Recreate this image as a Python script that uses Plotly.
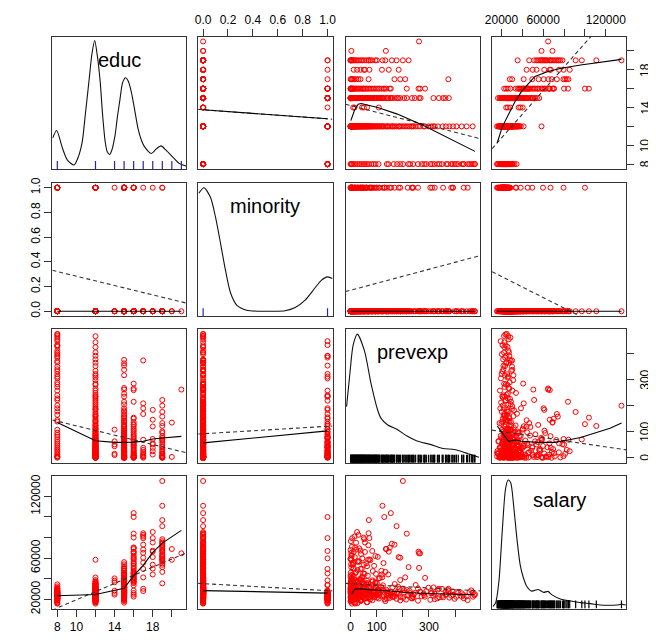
import plotly.graph_objects as go

# ---------------- data ----------------
# records per education level: (minority, prevexp [months], salary [$])
rec_educ8 = [
    (0, 476, 25000), (0, 468, 22500), (0, 455, 27000), (1, 433, 21000), (0, 432, 24000), (0, 412, 26500),
    (0, 398, 20400), (1, 385, 23500), (0, 372, 29000), (0, 340, 21900), (0, 321, 25500), (1, 305, 19500),
    (0, 290, 27900), (0, 272, 23000), (0, 258, 30500), (1, 240, 22000), (0, 228, 26000), (0, 221, 24300),
    (0, 201, 21300), (1, 190, 18900), (0, 178, 27000), (0, 165, 25200), (0, 145, 23600), (1, 139, 20700),
    (0, 107, 28500), (0, 96, 31000), (1, 88, 22800), (0, 80, 24900), (0, 70, 26100), (1, 62, 17100),
    (0, 55, 21600), (0, 48, 34500), (1, 40, 19800), (0, 33, 23100), (0, 26, 16200), (1, 18, 15750),
    (0, 12, 32500), (0, 6, 18300), (1, 3, 21000), (0, 0, 29700),
    (0, 474, 23800), (0, 462, 28600), (1, 448, 19200), (0, 426, 25800), (0, 404, 22400), (1, 391, 27600),
    (0, 366, 24700), (0, 350, 30100), (0, 332, 20900), (1, 312, 26300), (0, 282, 24100), (0, 4, 27300)]
rec_educ12 = [
    (0, 467, 26400), (0, 444, 22800), (1, 392, 24300), (0, 378, 21600), (0, 365, 27300), (0, 352, 23400),
    (0, 334, 29400), (1, 322, 20100), (0, 308, 25800), (0, 298, 31200), (0, 284, 22500), (0, 266, 27600),
    (1, 258, 18600), (0, 249, 33900), (0, 241, 24900), (0, 233, 21000), (0, 226, 28200), (1, 219, 23700),
    (0, 212, 19650), (0, 205, 26700), (0, 198, 30300), (0, 191, 22200), (1, 184, 25200), (0, 176, 20400),
    (0, 169, 34800), (0, 163, 23100), (0, 157, 27000), (1, 150, 21300), (0, 144, 25500), (0, 138, 29100),
    (0, 133, 18150), (0, 127, 24000), (1, 122, 22650), (0, 117, 31800), (0, 112, 26100), (0, 108, 20700),
    (0, 103, 28800), (1, 99, 24600), (0, 95, 36300), (0, 91, 21900), (0, 87, 25950), (0, 84, 19200),
    (1, 80, 23250), (0, 77, 30600), (0, 73, 27750), (0, 70, 22050), (0, 67, 58400), (0, 64, 17250),
    (1, 61, 26850), (0, 58, 24150), (0, 55, 32400), (0, 52, 20850), (0, 50, 29850), (1, 47, 22350),
    (0, 45, 41200), (0, 42, 25050), (0, 40, 18900), (0, 38, 27450), (1, 35, 21450), (0, 33, 35400),
    (0, 31, 23550), (0, 29, 26250), (0, 27, 19800), (1, 25, 28050), (0, 23, 24450), (0, 21, 38600),
    (0, 19, 22950), (0, 18, 30000), (1, 16, 16950), (0, 14, 25650), (0, 13, 21150), (0, 11, 33000),
    (0, 10, 23850), (1, 9, 27150), (0, 8, 20250), (0, 7, 31500), (0, 6, 24750), (0, 5, 15750),
    (1, 4, 26550), (0, 3, 22200), (0, 3, 37500), (0, 2, 19350), (0, 2, 28500), (1, 1, 23100),
    (0, 1, 17700), (0, 0, 25350), (0, 0, 30900), (0, 0, 21750), (1, 0, 34200), (0, 0, 18450),
    (0, 0, 26700), (0, 1, 21900), (1, 2, 19500), (0, 3, 29700), (0, 4, 24600), (0, 5, 32100),
    (1, 6, 20700), (0, 8, 27000), (0, 9, 23400), (0, 11, 35100), (1, 12, 22200), (0, 14, 28800),
    (0, 15, 25200), (0, 17, 19950), (0, 19, 31200), (1, 20, 24000), (0, 22, 26400), (0, 24, 36600),
    (0, 26, 22800), (0, 28, 29100), (1, 30, 21000), (0, 32, 27300), (0, 34, 33300), (0, 37, 24300),
    (0, 39, 18600), (1, 41, 26100), (0, 44, 30600), (0, 46, 23100), (0, 49, 27600), (0, 53, 20400),
    (1, 56, 25500), (0, 60, 34500), (0, 63, 22500), (0, 66, 28200), (0, 71, 25800), (1, 75, 19800),
    (0, 79, 31800), (0, 86, 24750), (0, 93, 27750), (0, 101, 21600), (1, 110, 23700), (0, 124, 29400),
    (0, 141, 26100), (0, 161, 22050), (0, 187, 30000), (1, 236, 20850), (0, 280, 25650), (0, 316, 23250),
    (0, 405, 27150), (0, 425, 22650)]
rec_educ14 = [(0, 108, 40300), (0, 63, 38100), (1, 51, 24500), (0, 44, 36500), (0, 15, 28300), (0, 10, 26100)]
rec_educ15 = [
    (0, 376, 27900), (0, 363, 24600), (1, 354, 21900), (0, 338, 30300), (0, 268, 26700), (0, 262, 50500),
    (1, 235, 23400), (0, 215, 29100), (0, 190, 38700), (0, 177, 25800), (1, 168, 22500), (0, 160, 31500),
    (0, 152, 27300), (0, 144, 44100), (0, 137, 24000), (1, 130, 19950), (0, 124, 33600), (0, 118, 28800),
    (0, 112, 40500), (0, 106, 26400), (1, 100, 23700), (0, 95, 36000), (0, 90, 30600), (0, 85, 47400),
    (0, 80, 25200), (1, 75, 21600), (0, 71, 32700), (0, 67, 28200), (0, 63, 52200), (0, 59, 26100),
    (1, 55, 24900), (0, 52, 35100), (0, 48, 29700), (0, 45, 42300), (0, 42, 27600), (1, 39, 18300),
    (0, 36, 31200), (0, 33, 25500), (0, 30, 56100), (0, 28, 38100), (1, 25, 22800), (0, 23, 33000),
    (0, 21, 27000), (0, 19, 45600), (0, 17, 29400), (1, 15, 16700), (0, 13, 34200), (0, 11, 26700),
    (0, 10, 49800), (0, 9, 30000), (1, 8, 21300), (0, 7, 36900), (0, 6, 28500), (0, 5, 40800),
    (0, 4, 24300), (1, 3, 38400), (0, 3, 32400), (0, 2, 54000), (0, 2, 29100), (0, 1, 37800),
    (1, 1, 19200), (0, 0, 31800), (0, 0, 43500), (0, 0, 27300), (0, 0, 35700),
    (0, 0, 29400), (0, 1, 34800), (1, 2, 22200), (0, 3, 26100), (0, 4, 39600), (0, 6, 31500),
    (1, 7, 24600), (0, 9, 28200), (0, 12, 42600), (0, 14, 33900), (1, 16, 20400), (0, 18, 30300),
    (0, 20, 36900), (0, 24, 27000), (0, 27, 48300), (1, 29, 25500), (0, 31, 32700), (0, 35, 29700),
    (0, 38, 39000), (0, 41, 26700), (1, 44, 23100), (0, 47, 34500), (0, 51, 30900), (0, 54, 44700),
    (0, 58, 27900), (1, 62, 21000), (0, 66, 35700), (0, 70, 31200), (0, 78, 28500), (0, 84, 37200),
    (1, 92, 26400), (0, 98, 33300), (0, 109, 29100), (0, 121, 41400), (0, 140, 27600), (1, 155, 24000),
    (0, 182, 32100), (0, 205, 28800), (0, 246, 26100), (0, 317, 31500)]
rec_educ16 = [
    (0, 285, 40800), (0, 266, 64700), (0, 260, 66300), (0, 215, 83800), (0, 154, 103800), (1, 129, 100000),
    (0, 50, 80000), (0, 150, 70100), (0, 137, 68900), (0, 126, 55200), (0, 118, 47700), (1, 110, 26100),
    (0, 104, 61200), (0, 97, 44700), (0, 90, 52500), (0, 84, 38400), (1, 78, 24400), (0, 72, 58800),
    (0, 66, 42900), (0, 60, 35700), (0, 55, 66000), (1, 48, 45100), (0, 43, 49500), (0, 38, 40200),
    (0, 33, 57000), (0, 29, 36900), (1, 25, 28500), (0, 21, 46500), (0, 17, 70300), (0, 14, 39300),
    (0, 11, 54300), (1, 9, 33600), (0, 7, 43800), (0, 5, 62400), (0, 4, 37200), (0, 3, 51000),
    (1, 2, 22600), (0, 1, 45900), (0, 0, 59700), (0, 0, 41700)]
rec_educ17 = [
    (0, 374, 30200), (0, 209, 41300), (0, 190, 60400), (0, 168, 73100), (0, 69, 84200), (1, 38, 49500),
    (0, 30, 82600), (0, 22, 68300), (0, 15, 81000), (0, 10, 55600), (0, 6, 79400), (0, 3, 65100),
    (0, 0, 28000)]
rec_educ18 = [
    (0, 184, 61000), (0, 146, 66300), (0, 120, 44100), (1, 72, 79500), (0, 55, 75200), (0, 51, 53600),
    (0, 38, 67300), (0, 25, 85400), (0, 12, 49900)]
rec_educ19 = [
    (0, 200, 135000), (0, 122, 110900), (0, 70, 97000), (0, 176, 91100), (0, 222, 51300), (0, 158, 74000),
    (0, 133, 46600), (0, 101, 35500), (0, 95, 62000), (1, 83, 67000), (0, 76, 58000), (0, 68, 72500),
    (0, 60, 55000), (0, 52, 78400), (1, 45, 59800), (0, 40, 64000), (0, 33, 69500), (0, 27, 57000),
    (0, 21, 75000), (0, 16, 61000), (0, 12, 66000), (0, 8, 53500), (0, 5, 71000), (0, 3, 63000),
    (0, 1, 76500), (0, 0, 59000), (0, 0, 68000)]
rec_educ20 = [(0, 135, 68900), (0, 3, 58400)]
rec_educ21 = [(0, 262, 64700)]

educ_groups = [(8, rec_educ8), (12, rec_educ12), (14, rec_educ14), (15, rec_educ15), (16, rec_educ16),
               (17, rec_educ17), (18, rec_educ18), (19, rec_educ19), (20, rec_educ20), (21, rec_educ21)]

variables = ["educ", "minority", "prevexp", "salary"]

# tick positions / labels (as in the reference)
ticks_educ = ([8, 10, 12, 14, 16, 18, 20], ["8", "10", "", "14", "", "18", ""])
ticks_minority = ([0, 0.2, 0.4, 0.6, 0.8, 1.0], ["0.0", "0.2", "0.4", "0.6", "0.8", "1.0"])
ticks_prevexp = ([0, 100, 200, 300, 400], ["0", "100", "", "300", ""])
ticks_salary = ([20000, 40000, 60000, 80000, 100000, 120000], ["20000", "", "60000", "", "", "120000"])

# kernel density curves on the diagonal (relative height, peak = 1)
dens_educ = [(7.51, 0.223), (7.93, 0.283), (8.55, 0.139), (9.06, 0.047), (9.75, 0.008), (10.20, 0.073),
             (10.61, 0.192), (10.96, 0.428), (11.30, 0.664), (11.64, 0.90), (11.92, 1.0), (12.20, 0.874),
             (12.50, 0.664), (12.75, 0.402), (13.02, 0.192), (13.23, 0.113), (13.47, 0.092), (13.71, 0.126),
             (14.05, 0.244), (14.29, 0.388), (14.57, 0.533), (14.84, 0.664), (15.15, 0.703), (15.43, 0.677),
             (15.77, 0.585), (16.12, 0.441), (16.46, 0.297), (16.81, 0.205), (17.15, 0.152), (17.84, 0.100),
             (18.35, 0.134), (18.87, 0.160), (19.39, 0.126), (20.08, 0.073), (20.76, 0.021), (21.49, 0.0)]
dens_minority = [(-0.035, 0.955), (0.007, 1.0), (0.06, 0.92), (0.10, 0.76), (0.14, 0.55), (0.18, 0.33),
                 (0.22, 0.15), (0.27, 0.05), (0.35, 0.008), (0.45, 0.0), (0.55, 0.0), (0.66, 0.004),
                 (0.74, 0.03), (0.82, 0.09), (0.90, 0.19), (0.95, 0.25), (1.0, 0.278), (1.04, 0.265)]
dens_prevexp = [(-15.3, 0.413), (-2.8, 0.677), (9.8, 0.91), (26, 1.0), (53.5, 0.862), (78.5, 0.598),
                (103.6, 0.386), (116, 0.320), (141, 0.267), (179, 0.228), (216, 0.175), (254, 0.135),
                (304, 0.108), (354, 0.074), (391, 0.069), (416, 0.056), (454, 0.029), (491, 0.003)]
dens_salary = [(11920, 0.0), (14430, 0.029), (17560, 0.198), (20690, 0.589), (23830, 0.927), (26330, 1.0),
               (28840, 0.979), (31660, 0.797), (34790, 0.536), (37930, 0.328), (41060, 0.224), (44190, 0.159),
               (48890, 0.120), (55160, 0.133), (60500, 0.110), (64500, 0.118), (68500, 0.090), (77090, 0.055),
               (86500, 0.042), (95890, 0.029), (105300, 0.021), (114700, 0.010), (124100, 0.008),
               (130400, 0.010), (135100, 0.016), (139200, 0.010)]
dens_yrange = {"educ": [-0.024, 1.031], "minority": [-0.04, 1.04],
               "prevexp": [-0.04, 1.042], "salary": [-0.018, 1.031]}

# fitted lines: (x = column variable, y = row variable)
lm_educ_minority = [(-0.04, 13.80), (1.04, 12.76)]
lo_educ_minority = [(0, 13.76), (1, 12.80)]
lm_educ_prevexp = [(-19, 14.34), (495, 10.70)]
lo_educ_prevexp = [(1, 12.61), (15, 13.7), (29, 14.34), (41, 14.42), (104, 14.0), (179, 13.30),
                   (279, 12.09), (367, 10.88), (476, 9.35)]
lm_educ_salary = [(10980, 9.63), (139770, 25.8)]
lo_educ_salary = [(15970, 10.26), (20670, 11.92), (26960, 13.30), (33250, 14.69), (39460, 15.73),
                  (52060, 17.29), (64560, 17.81), (77070, 18.16), (95870, 18.50), (114700, 18.78),
                  (135000, 19.10)]
lm_minority_educ = [(7.48, 0.331), (21.52, 0.066)]
lo_minority_educ = [(8, 0.0), (21, 0.0)]
lm_minority_prevexp = [(-19, 0.159), (495, 0.450)]
lo_minority_prevexp = [(0, 0.0), (476, 0.0)]
lm_minority_salary = [(10980, 0.32), (139770, -0.23)]
lo_minority_salary = [(15750, 0.0), (135000, 0.0)]
lm_prevexp_educ = [(7.48, 145), (21.52, 19)]
lo_prevexp_educ = [(8, 135), (12, 65), (14, 59), (15, 59), (16, 60), (17, 63), (18, 72), (19, 76), (21, 82)]
lm_prevexp_minority = [(-0.04, 91), (1.04, 122)]
lo_prevexp_minority = [(0, 57), (1, 103)]
lm_prevexp_salary = [(10980, 106), (139770, 30)]
lo_prevexp_salary = [(15960, 122), (19160, 103), (23860, 78), (26960, 63), (30060, 65), (33260, 68),
                     (39460, 63), (55160, 59), (70860, 59), (80260, 65), (95860, 78), (111560, 97),
                     (124060, 113), (135060, 133)]
lm_salary_educ = [(7.48, 9600), (21.52, 65100)]
lo_salary_educ = [(8, 23400), (10, 24300), (12, 24600), (15, 30700), (16, 43000), (17, 53000),
                  (18, 65600), (19, 74600), (20, 80600), (21, 87000)]
lm_salary_minority = [(-0.04, 35500), (1.04, 28160)]
lo_salary_minority = [(0, 28450), (1, 25960)]
lm_salary_prevexp = [(-19, 35500), (495, 28160)]
lo_salary_prevexp = [(3.5, 25000), (16, 29780), (35, 30350), (66, 29400), (116, 28820), (216, 26530),
                     (291, 25580), (379, 25000), (473, 24340)]

# ---------------- assemble columns ----------------
educ, minority, prevexp, salary = [], [], [], []
for e, recs in educ_groups:
    for m, p, s in recs:
        educ.append(e)
        minority.append(m)
        prevexp.append(p)
        salary.append(s)
data = {"educ": educ, "minority": minority, "prevexp": prevexp, "salary": salary}
ticks = {"educ": ticks_educ, "minority": ticks_minority, "prevexp": ticks_prevexp, "salary": ticks_salary}
dens = {"educ": dens_educ, "minority": dens_minority, "prevexp": dens_prevexp, "salary": dens_salary}
fits = {
    ("educ", "minority"): (lm_educ_minority, lo_educ_minority),
    ("educ", "prevexp"): (lm_educ_prevexp, lo_educ_prevexp),
    ("educ", "salary"): (lm_educ_salary, lo_educ_salary),
    ("minority", "educ"): (lm_minority_educ, lo_minority_educ),
    ("minority", "prevexp"): (lm_minority_prevexp, lo_minority_prevexp),
    ("minority", "salary"): (lm_minority_salary, lo_minority_salary),
    ("prevexp", "educ"): (lm_prevexp_educ, lo_prevexp_educ),
    ("prevexp", "minority"): (lm_prevexp_minority, lo_prevexp_minority),
    ("prevexp", "salary"): (lm_prevexp_salary, lo_prevexp_salary),
    ("salary", "educ"): (lm_salary_educ, lo_salary_educ),
    ("salary", "minority"): (lm_salary_minority, lo_salary_minority),
    ("salary", "prevexp"): (lm_salary_prevexp, lo_salary_prevexp),
}

# R-style axis ranges: data range padded by 4 %
ranges = {}
for v in variables:
    lo, hi = min(data[v]), max(data[v])
    pad = 0.04 * (hi - lo)
    ranges[v] = [lo - pad, hi + pad]

# ---------------- layout geometry (window pixels; the page body adds an 8 px offset) ----------------
OFF = 8
W, H = 656 - OFF, 643 - OFF
col_px = [(46, 182.3), (194.3, 331), (344.3, 481), (493.3, 630)]
row_px = [(31, 166), (180, 316), (329, 465.3), (479, 614)]


def px_x(x):
    return (x - OFF) / W


def px_y(y):
    return 1 - (y - OFF) / H


FRAME = "#333333"
FONT = "Liberation Sans, Arial, sans-serif"
tickfont = dict(family=FONT, size=12, color="#000000")

fig = go.Figure()
layout = dict(width=W, height=H, margin=dict(l=0, r=0, t=0, b=0),
              paper_bgcolor="white", plot_bgcolor="white", showlegend=False, annotations=[])

for r in range(4):
    for c in range(4):
        k = r * 4 + c + 1
        sfx = "" if k == 1 else str(k)
        vx, vy = variables[c], variables[r]
        xa = dict(domain=[px_x(col_px[c][0]), px_x(col_px[c][1])], anchor="y" + sfx,
                  range=ranges[vx], showgrid=False, zeroline=False, showline=True, mirror=True,
                  linecolor=FRAME, linewidth=1, ticks="", showticklabels=False, fixedrange=True)
        ya = dict(domain=[px_y(row_px[r][1]), px_y(row_px[r][0])], anchor="x" + sfx,
                  range=ranges[vy] if r != c else dens_yrange[vy], showgrid=False, zeroline=False,
                  showline=True, mirror=True, linecolor=FRAME, linewidth=1, ticks="",
                  showticklabels=False, fixedrange=True)
        if (r == 0 and c in (1, 3)) or (r == 3 and c in (0, 2)):
            tv, tt = ticks[vx]
            xa.update(side="top" if r == 0 else "bottom", ticks="outside", ticklen=7, tickwidth=1,
                      tickcolor=FRAME, tickvals=tv, ticktext=tt, showticklabels=True, tickfont=tickfont,
                      tickangle=0)
        if c == 0 and r in (1, 3):
            tv, tt = ticks[vy]
            ya.update(side="left", ticks="outside", ticklen=7, tickwidth=1,
                      tickcolor=FRAME, tickvals=tv, ticktext=tt, showticklabels=True, tickfont=tickfont,
                      tickangle=-90)
        if c == 3 and r in (0, 2):
            tv, tt = ticks[vy]
            ya.update(side="right", ticks="outside", ticklen=7, tickwidth=1,
                      tickcolor=FRAME, tickvals=tv, showticklabels=False)
            for val, lab in zip(tv, tt):
                if lab:
                    layout["annotations"].append(dict(
                        text=lab, x=px_x(649), y=val, xref="paper", yref="y" + sfx, showarrow=False,
                        textangle=-90, xanchor="center", yanchor="middle", font=tickfont))
        layout["xaxis" + sfx] = xa
        layout["yaxis" + sfx] = ya
        xref, yref = "x" + sfx, "y" + sfx

        if r == c:
            d = dens[vx]
            fig.add_trace(go.Scatter(x=[p[0] for p in d], y=[p[1] for p in d], mode="lines",
                                     line=dict(color="#111111", width=1.1, shape="spline", smoothing=0.7),
                                     xaxis=xref, yaxis=yref, hoverinfo="skip"))
            y0 = dens_yrange[vx][0]
            y1 = y0 + (dens_yrange[vx][1] - dens_yrange[vx][0]) * 0.06
            rx, ry = [], []
            for val in sorted(set(data[vx])):
                rx += [val, val, None]
                ry += [y0, y1, None]
            rug_col = "#2424b0" if vx in ("educ", "minority") else "#000000"
            fig.add_trace(go.Scatter(x=rx, y=ry, mode="lines", line=dict(color=rug_col, width=1.2),
                                     xaxis=xref, yaxis=yref, hoverinfo="skip"))
            layout["annotations"].append(dict(
                text=vx, x=px_x((col_px[c][0] + col_px[c][1]) / 2), y=px_y(row_px[r][0] + 24),
                xref="paper", yref="paper", showarrow=False, xanchor="center", yanchor="middle",
                font=dict(family=FONT, size=20, color="#000000")))
        else:
            fig.add_trace(go.Scatter(x=data[vx], y=data[vy], mode="markers",
                                     marker=dict(symbol="circle-open", size=5, color="#ff0000",
                                                 line=dict(width=1, color="#ff0000")),
                                     xaxis=xref, yaxis=yref, hoverinfo="skip"))
            lm, lo = fits[(vy, vx)]
            fig.add_trace(go.Scatter(x=[p[0] for p in lm], y=[p[1] for p in lm], mode="lines",
                                     line=dict(color="#333333", width=1.1, dash="4px,3px"),
                                     xaxis=xref, yaxis=yref, hoverinfo="skip"))
            fig.add_trace(go.Scatter(x=[p[0] for p in lo], y=[p[1] for p in lo], mode="lines",
                                     line=dict(color="#000000", width=1.1),
                                     xaxis=xref, yaxis=yref, hoverinfo="skip"))

fig.update_layout(**layout)
fig.write_html("out.html")
